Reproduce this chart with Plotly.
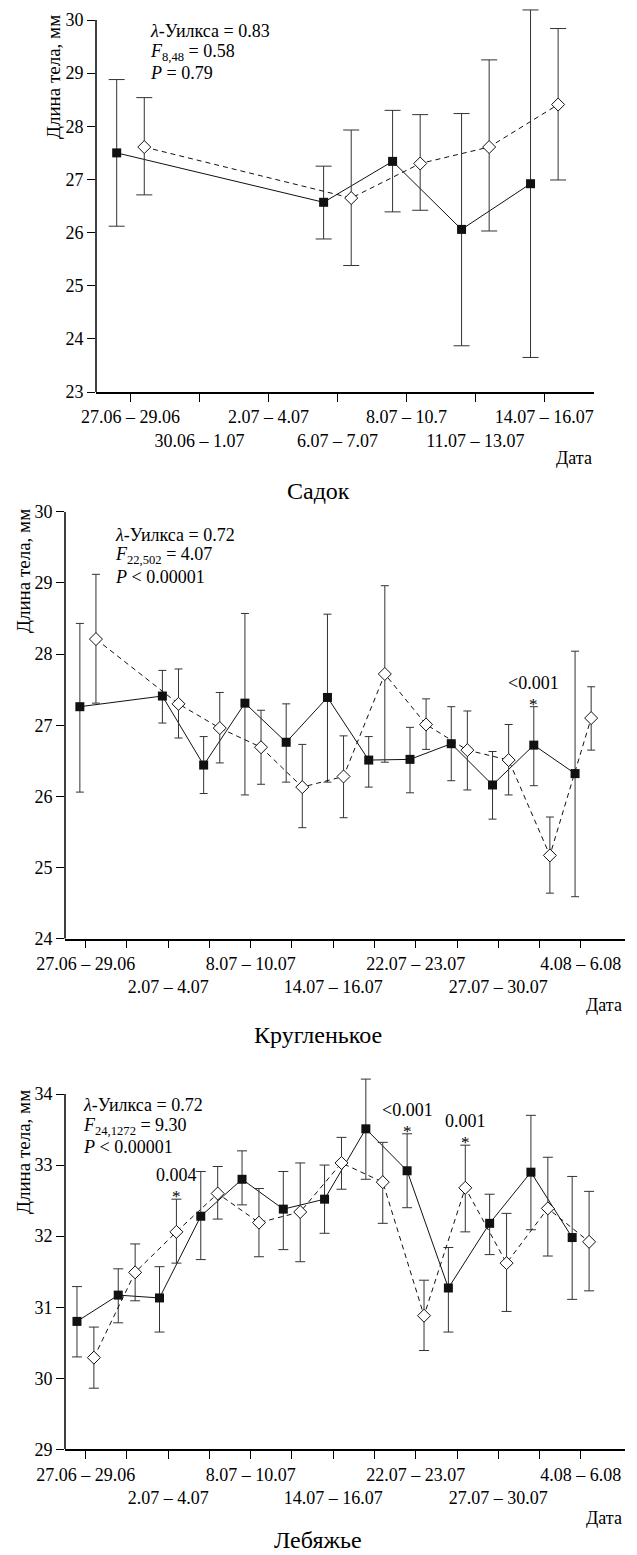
import plotly.graph_objects as go

W, H = 637, 1555
FONT = "Times New Roman"

# ---------------- data ----------------
# Panel 1: Садок
p1_labels = ["27.06 – 29.06", "30.06 – 1.07", "2.07 – 4.07", "6.07 – 7.07",
             "8.07 – 10.7", "11.07 – 13.07", "14.07 – 16.07"]
p1_black_idx = [0, 3, 4, 5, 6]
p1_black_mean = [27.50, 26.57, 27.34, 26.06, 26.92]
p1_black_hi = [28.88, 27.25, 28.30, 28.24, 30.19]
p1_black_lo = [26.12, 25.88, 26.39, 23.87, 23.65]
p1_white_idx = [0, 3, 4, 5, 6]
p1_white_mean = [27.61, 26.65, 27.30, 27.61, 28.41]
p1_white_hi = [28.54, 27.93, 28.22, 29.25, 29.84]
p1_white_lo = [26.71, 25.38, 26.42, 26.03, 26.99]

# Panels 2 and 3 share the date categories (13 periods, every other one labelled)
p23_labels = ["27.06 – 29.06", "", "2.07 – 4.07", "", "8.07 – 10.07", "",
              "14.07 – 16.07", "", "22.07 – 23.07", "", "27.07 – 30.07", "",
              "4.08 – 6.08"]

# Panel 2: Кругленькое
p2_black_idx = [0, 2, 3, 4, 5, 6, 7, 8, 9, 10, 11, 12]
p2_black_mean = [27.26, 27.41, 26.44, 27.31, 26.76, 27.39, 26.51, 26.52, 26.74, 26.16, 26.72, 26.32]
p2_black_hi = [28.43, 27.77, 26.84, 28.57, 27.30, 28.56, 26.84, 26.97, 27.26, 26.63, 27.26, 28.04]
p2_black_lo = [26.06, 27.03, 26.04, 26.02, 26.20, 26.20, 26.13, 26.05, 26.22, 25.68, 26.15, 24.59]
p2_white_idx = [0, 2, 3, 4, 5, 6, 7, 8, 9, 10, 11, 12]
p2_white_mean = [28.21, 27.30, 26.96, 26.69, 26.13, 26.28, 27.72, 27.01, 26.65, 26.51, 25.17, 27.10]
p2_white_hi = [29.12, 27.79, 27.46, 27.21, 26.73, 26.85, 28.96, 27.37, 27.20, 27.01, 25.71, 27.54]
p2_white_lo = [27.31, 26.82, 26.47, 26.17, 25.56, 25.70, 26.48, 26.66, 26.09, 26.02, 24.64, 26.65]

# Panel 3: Лебяжье
p3_black_idx = list(range(13))
p3_black_mean = [30.80, 31.17, 31.13, 32.28, 32.80, 32.38, 32.52, 33.51, 32.92, 31.27, 32.18, 32.90, 31.98]
p3_black_hi = [31.29, 31.54, 31.57, 32.91, 33.20, 32.91, 33.00, 34.21, 33.44, 31.84, 32.59, 33.70, 32.84]
p3_black_lo = [30.30, 30.78, 30.65, 31.67, 32.44, 31.81, 32.04, 32.80, 32.40, 30.65, 31.74, 32.09, 31.11]
p3_white_idx = list(range(13))
p3_white_mean = [30.29, 31.49, 32.06, 32.60, 32.19, 32.34, 33.03, 32.76, 30.88, 32.68, 31.62, 32.39, 31.92]
p3_white_hi = [30.72, 31.89, 32.52, 32.98, 32.67, 33.03, 33.39, 33.32, 31.38, 33.28, 32.32, 33.11, 32.63]
p3_white_lo = [29.86, 31.09, 31.62, 32.24, 31.71, 31.64, 32.66, 32.18, 30.39, 32.06, 30.94, 31.72, 31.23]

# significance marks: (panel, series, category index, p-label)
sig_marks = [
    (2, "black", 11, "&lt;0.001"),
    (3, "white", 2, "0.004"),
    (3, "black", 8, "&lt;0.001"),
    (3, "white", 9, "0.001"),
]

stats = {
    1: ["<i>λ</i>-Уилкса = 0.83", "<i>F</i><sub>8,48</sub> = 0.58", "<i>P</i> = 0.79"],
    2: ["<i>λ</i>-Уилкса = 0.72", "<i>F</i><sub>22,502</sub> = 4.07", "<i>P</i> &lt; 0.00001"],
    3: ["<i>λ</i>-Уилкса = 0.72", "<i>F</i><sub>24,1272</sub> = 9.30", "<i>P</i> &lt; 0.00001"],
}
titles = {1: "Садок", 2: "Кругленькое", 3: "Лебяжье"}
y_title = "Длина тела, мм"
x_title = "Дата"


def px_x(v):
    return v / W


def px_y(v):
    return 1 - v / H


panels = {
    1: dict(xdom=(96, 594), ydom=(4.1, 392), xr=[-0.5, 6.72], yr=[23, 30.3], yticks=list(range(23, 31)),
            ytop=30, labels=p1_labels, offs=(-0.2, 0.2), cap=8,
            black=(p1_black_idx, p1_black_mean, p1_black_hi, p1_black_lo),
            white=(p1_white_idx, p1_white_mean, p1_white_hi, p1_white_lo),
            stats_xy=(148, 31), ytitle_xy=(54, 77), data_xy=(594, 458), title_y=491),
    2: dict(xdom=(65, 625), ydom=(511.7, 938.7), xr=[-0.5, 13.07], yr=[24, 30], yticks=list(range(24, 31)),
            ytop=30, labels=p23_labels, offs=(-0.14, 0.25), cap=4,
            black=(p2_black_idx, p2_black_mean, p2_black_hi, p2_black_lo),
            white=(p2_white_idx, p2_white_mean, p2_white_hi, p2_white_lo),
            stats_xy=(113, 535), ytitle_xy=(23, 571), data_xy=(624, 1005), title_y=1035),
    3: dict(xdom=(65, 625), ydom=(1072.7, 1449.3), xr=[-0.5, 13.07], yr=[29, 34.3], yticks=list(range(29, 35)),
            ytop=34, labels=p23_labels, offs=(-0.21, 0.2), cap=5,
            black=(p3_black_idx, p3_black_mean, p3_black_hi, p3_black_lo),
            white=(p3_white_idx, p3_white_mean, p3_white_hi, p3_white_lo),
            stats_xy=(81, 1105), ytitle_xy=(23, 1152), data_xy=(624, 1518), title_y=1540),
}

fig = go.Figure()
annotations = []
shapes = []

TICKFONT = dict(family=FONT, size=18, color="black")

for k, P in panels.items():
    xa = "x" if k == 1 else f"x{k}"
    ya = "y" if k == 1 else f"y{k}"
    xkey = "xaxis" if k == 1 else f"xaxis{k}"
    ykey = "yaxis" if k == 1 else f"yaxis{k}"

    for series, off in (("black", P["offs"][0]), ("white", P["offs"][1])):
        idx, mean, hi, lo = P[series]
        xs = [i + off for i in idx]
        err_plus = [h - m for h, m in zip(hi, mean)]
        err_minus = [m - l for m, l in zip(mean, lo)]
        if series == "black":
            marker = dict(symbol="square", size=9, color="#111111", line=dict(width=0))
            line = dict(color="#111111", width=1)
        else:
            marker = dict(symbol="diamond", size=10, color="white", line=dict(color="#111111", width=1))
            line = dict(color="#111111", width=1, dash="5px,4px")
        fig.add_trace(go.Scatter(
            x=xs, y=mean, mode="lines+markers", xaxis=xa, yaxis=ya,
            marker=marker, line=line, showlegend=False, cliponaxis=False,
            error_y=dict(type="data", symmetric=False, array=err_plus, arrayminus=err_minus,
                         color="#333333", thickness=1, width=P["cap"]),
        ))

    lab_vals, lab_text = [], []
    row = 0
    for i, t in enumerate(P["labels"]):
        if t:
            lab_vals.append(i)
            lab_text.append(t if row % 2 == 0 else "<br>" + t)
            row += 1

    fig.layout[xkey] = dict(
        domain=[px_x(P["xdom"][0]), px_x(P["xdom"][1])], range=P["xr"], anchor=ya,
        tickmode="array", tickvals=lab_vals, ticktext=lab_text, tickangle=0, automargin=False,
        ticks="outside", ticklen=8, tickwidth=1.3, tickcolor="black",
        minor=dict(tickmode="array", tickvals=list(range(len(P["labels"]))), ticks="outside",
                   ticklen=8, tickwidth=1.3, tickcolor="black", showgrid=False),
        showline=True, linecolor="black", linewidth=1.5,
        showgrid=False, zeroline=False, tickfont=TICKFONT, fixedrange=True,
    )
    fig.layout[ykey] = dict(
        domain=[px_y(P["ydom"][1]), px_y(P["ydom"][0])], range=P["yr"], anchor=xa, automargin=False,
        tickmode="array", tickvals=P["yticks"], ticktext=[str(v) for v in P["yticks"]],
        ticks="outside", ticklen=8, tickwidth=1.3, tickcolor="black",
        showline=False, showgrid=False, zeroline=False, tickfont=TICKFONT, fixedrange=True,
    )
    shapes.append(dict(type="line", xref=f"{xa} domain", yref=ya, x0=0, x1=0,
                       y0=P["yr"][0], y1=P["ytop"], line=dict(color="black", width=1.5)))

    sx, sy = P["stats_xy"]
    for j, line_txt in enumerate(stats[k]):
        annotations.append(dict(xref="paper", yref="paper", x=px_x(sx), y=px_y(sy + j * 21),
                                text=line_txt, showarrow=False, xanchor="left", yanchor="middle",
                                font=dict(family=FONT, size=18, color="black")))
    tx, ty = P["ytitle_xy"]
    annotations.append(dict(xref="paper", yref="paper", x=px_x(tx), y=px_y(ty), text=y_title,
                            textangle=-90, showarrow=False, xanchor="center", yanchor="middle",
                            font=dict(family=FONT, size=19, color="black")))
    dx, dy = P["data_xy"]
    annotations.append(dict(xref="paper", yref="paper", x=px_x(dx), y=px_y(dy), text=x_title,
                            showarrow=False, xanchor="right", yanchor="middle",
                            font=dict(family=FONT, size=18, color="black")))
    annotations.append(dict(xref="paper", yref="paper", x=px_x(318), y=px_y(P["title_y"]),
                            text=titles[k], showarrow=False, xanchor="center", yanchor="middle",
                            font=dict(family=FONT, size=24, color="black")))

for k, series, ci, lab in sig_marks:
    P = panels[k]
    xa = "x" if k == 1 else f"x{k}"
    ya = "y" if k == 1 else f"y{k}"
    idx, mean, hi, lo = P[series]
    pos = idx.index(ci)
    off = P["offs"][0] if series == "black" else P["offs"][1]
    xv = ci + off
    top = hi[pos]
    annotations.append(dict(xref=xa, yref=ya, x=xv, y=top, text="*", showarrow=False,
                            xanchor="center", yanchor="bottom", yshift=-9,
                            font=dict(family=FONT, size=17, color="black")))
    annotations.append(dict(xref=xa, yref=ya, x=xv, y=top, text=lab, showarrow=False,
                            xanchor="center", yanchor="bottom", yshift=12,
                            font=dict(family=FONT, size=18, color="black")))

fig.update_layout(
    width=W, height=H, margin=dict(l=0, r=0, t=0, b=0, pad=0),
    paper_bgcolor="white", plot_bgcolor="white",
    annotations=annotations, shapes=shapes, showlegend=False,
    font=dict(family=FONT, color="black"),
)

fig.write_html("out.html")
